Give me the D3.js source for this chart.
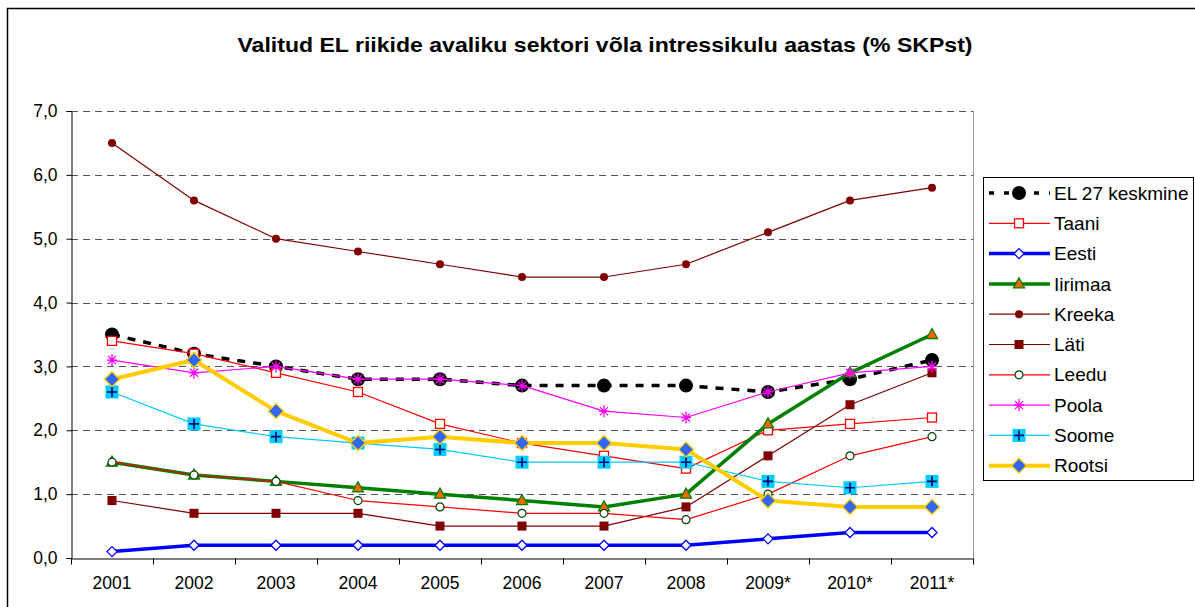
<!DOCTYPE html>
<html>
<head>
<meta charset="utf-8">
<script src="https://cdn.jsdelivr.net/npm/d3@7"></script>
<style>
  body { margin: 0; background: #fff; }
  svg { font-family: "Liberation Sans", Arial, sans-serif; }
</style>
</head>
<body>
<div id="chart"></div>
<script>
const years = ["2001", "2002", "2003", "2004", "2005", "2006", "2007", "2008", "2009*", "2010*", "2011*"];
const yTicks = [0, 1, 2, 3, 4, 5, 6, 7];

const el27 = [3.5, 3.2, 3.0, 2.8, 2.8, 2.7, 2.7, 2.7, 2.6, 2.8, 3.1];
const taani = [3.4, 3.2, 2.9, 2.6, 2.1, 1.8, 1.6, 1.4, 2.0, 2.1, 2.2];
const eesti = [0.1, 0.2, 0.2, 0.2, 0.2, 0.2, 0.2, 0.2, 0.3, 0.4, 0.4];
const iirimaa = [1.5, 1.3, 1.2, 1.1, 1.0, 0.9, 0.8, 1.0, 2.1, 2.9, 3.5];
const kreeka = [6.5, 5.6, 5.0, 4.8, 4.6, 4.4, 4.4, 4.6, 5.1, 5.6, 5.8];
const lati = [0.9, 0.7, 0.7, 0.7, 0.5, 0.5, 0.5, 0.8, 1.6, 2.4, 2.9];
const leedu = [1.5, 1.3, 1.2, 0.9, 0.8, 0.7, 0.7, 0.6, 1.0, 1.6, 1.9];
const poola = [3.1, 2.9, 3.0, 2.8, 2.8, 2.7, 2.3, 2.2, 2.6, 2.9, 3.0];
const soome = [2.6, 2.1, 1.9, 1.8, 1.7, 1.5, 1.5, 1.5, 1.2, 1.1, 1.2];
const rootsi = [2.8, 3.1, 2.3, 1.8, 1.9, 1.8, 1.8, 1.7, 0.9, 0.8, 0.8];

// series styles (line + marker)
const series = [
  { name: "EL 27 keskmine", values: el27, color: "#000", width: 3.5, dash: "8,8", marker: "bigcircle" },
  { name: "Taani", values: taani, color: "#ff0000", width: 1.2, marker: "opensquare" },
  { name: "Eesti", values: eesti, color: "#0000ff", width: 3.5, marker: "opendiamond" },
  { name: "Iirimaa", values: iirimaa, color: "#008000", width: 3.5, marker: "triangle" },
  { name: "Kreeka", values: kreeka, color: "#800000", width: 1.2, marker: "dot" },
  { name: "Läti", values: lati, color: "#800000", width: 1.2, marker: "square" },
  { name: "Leedu", values: leedu, color: "#ff0000", width: 1.2, marker: "opencircle" },
  { name: "Poola", values: poola, color: "#ff00ff", width: 1.2, marker: "star" },
  { name: "Soome", values: soome, color: "#00ccff", width: 1.2, marker: "plussquare" },
  { name: "Rootsi", values: rootsi, color: "#ffcc00", width: 4, marker: "diamond" }
];

const W = 1195, H = 607;
const plot = { left: 71, right: 973, top: 111, bottom: 558 };

const svg = d3.select("#chart").append("svg")
  .attr("width", W).attr("height", H);

// outer frame
svg.append("rect")
  .attr("x", 7.5).attr("y", 8.5)
  .attr("width", W + 20).attr("height", H + 20)
  .attr("fill", "none").attr("stroke", "#000").attr("stroke-width", 1.5);

svg.append("text")
  .attr("x", 605).attr("y", 52)
  .attr("text-anchor", "middle")
  .attr("textLength", 735).attr("lengthAdjust", "spacingAndGlyphs")
  .style("font-size", "21px").style("font-weight", "bold")
  .text("Valitud EL riikide avaliku sektori võla intressikulu aastas (% SKPst)");

const x = d3.scaleBand().domain(years).range([plot.left, plot.right]);
const y = d3.scaleLinear().domain([0, 7]).range([plot.bottom, plot.top]);
const cx = d => x(d) + x.bandwidth() / 2;

// gridlines
svg.append("g").selectAll("line")
  .data(yTicks.filter(d => d > 0))
  .join("line")
  .attr("x1", plot.left).attr("x2", plot.right)
  .attr("y1", d => Math.round(y(d)) + 0.5).attr("y2", d => Math.round(y(d)) + 0.5)
  .attr("stroke", "#555").attr("stroke-dasharray", "7,5");

// right border of plot area
svg.append("line")
  .attr("x1", plot.right + 0.5).attr("x2", plot.right + 0.5)
  .attr("y1", plot.top).attr("y2", plot.bottom)
  .attr("stroke", "#999");

// y axis
const yAxis = d3.axisLeft(y).tickValues(yTicks).tickSize(5).tickPadding(9)
  .tickFormat(d => d3.format(".1f")(d).replace(".", ","));
const ya = svg.append("g").attr("transform", `translate(${plot.left + 0.5},0)`).call(yAxis);
ya.select(".domain").attr("stroke", "#000");
ya.selectAll("text").style("font-size", "17.5px").style("font-family", "Liberation Sans, Arial, sans-serif");

// x axis (labels) + boundary ticks
const xAxis = d3.axisBottom(x).tickSize(0).tickPadding(18).tickSizeOuter(0);
const xa = svg.append("g").attr("transform", `translate(0,${plot.bottom + 0.5})`).call(xAxis);
xa.selectAll("text").style("font-size", "17.5px").style("font-family", "Liberation Sans, Arial, sans-serif");
xa.select(".domain").attr("stroke", "#000");
xa.selectAll(".edge").data(years.concat(["end"]))
  .join("line").attr("class", "edge")
  .attr("x1", (d, i) => i < years.length ? Math.round(x(d)) + 0.5 : plot.right + 0.5)
  .attr("x2", (d, i) => i < years.length ? Math.round(x(d)) + 0.5 : plot.right + 0.5)
  .attr("y1", 0).attr("y2", 6)
  .attr("stroke", "#000");

function drawMarker(g, type, color) {
  switch (type) {
    case "bigcircle":
      g.append("circle").attr("r", 7).attr("fill", "#000");
      break;
    case "opensquare":
      g.append("rect").attr("x", -4.5).attr("y", -4.5).attr("width", 9).attr("height", 9)
        .attr("fill", "#fff").attr("stroke", color).attr("stroke-width", 1.3);
      break;
    case "opendiamond":
      g.append("path").attr("d", "M0,-5L5,0L0,5L-5,0Z")
        .attr("fill", "#fff").attr("stroke", color).attr("stroke-width", 1.3);
      break;
    case "triangle":
      g.append("path").attr("d", "M0,-6L5.5,4L-5.5,4Z")
        .attr("fill", "#ff6600").attr("stroke", color).attr("stroke-width", 1.3);
      break;
    case "dot":
      g.append("circle").attr("r", 4).attr("fill", color);
      break;
    case "square":
      g.append("rect").attr("x", -4.5).attr("y", -4.5).attr("width", 9).attr("height", 9)
        .attr("fill", color);
      break;
    case "opencircle":
      g.append("circle").attr("r", 4).attr("fill", "#fff")
        .attr("stroke", "#004000").attr("stroke-width", 1.2);
      break;
    case "star":
      g.append("path").attr("d", "M-5,0H5M0,-6V6M-4,-4L4,4M-4,4L4,-4")
        .attr("stroke", color).attr("stroke-width", 1.3).attr("fill", "none");
      break;
    case "plussquare":
      g.append("rect").attr("x", -6.5).attr("y", -6.5).attr("width", 13).attr("height", 13)
        .attr("fill", color);
      g.append("path").attr("d", "M-5,0H5M0,-5V5")
        .attr("stroke", "#000066").attr("stroke-width", 1.6);
      break;
    case "diamond":
      g.append("path").attr("d", "M0,-7.5L7.5,0L0,7.5L-7.5,0Z")
        .attr("fill", "#3366ff").attr("stroke", color).attr("stroke-width", 1.3);
      break;
  }
}

const line = d3.line().x(d => d[0]).y(d => d[1]);

series.forEach(s => {
  const pts = s.values.map((v, i) => [cx(years[i]), y(v)]);
  const g = svg.append("g");
  g.append("path")
    .attr("d", line(pts))
    .attr("fill", "none")
    .attr("stroke", s.color)
    .attr("stroke-width", s.width)
    .attr("stroke-dasharray", s.dash || null)
    .attr("stroke-linejoin", "round");
  pts.forEach(p => {
    const m = g.append("g").attr("transform", `translate(${p[0]},${p[1]})`);
    drawMarker(m, s.marker, s.color);
  });
});

// legend
const legend = svg.append("g").attr("transform", "translate(983,177)");
legend.append("rect")
  .attr("x", 0.5).attr("y", 0.5).attr("width", 210).attr("height", 303)
  .attr("fill", "#fff").attr("stroke", "#000");

series.forEach((s, i) => {
  const ly = 16 + i * 30.3;
  const item = legend.append("g").attr("transform", `translate(0,${ly})`);
  item.append("line")
    .attr("x1", 6).attr("x2", 67).attr("y1", 0).attr("y2", 0)
    .attr("stroke", s.color)
    .attr("stroke-width", s.width)
    .attr("stroke-dasharray", s.dash ? "5,10" : null);
  const m = item.append("g").attr("transform", "translate(36,0)");
  drawMarker(m, s.marker, s.color);
  item.append("text")
    .attr("x", 71).attr("y", 0).attr("dy", "0.35em")
    .style("font-size", "19px")
    .text(s.name);
});
</script>
</body>
</html>
